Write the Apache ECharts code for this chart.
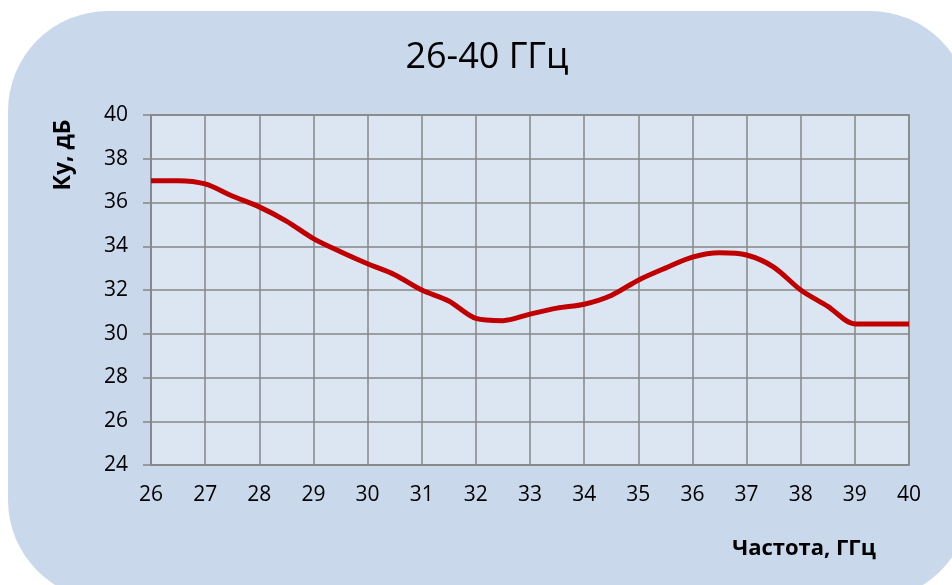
<!DOCTYPE html>
<html>
<head>
<meta charset="utf-8">
<script src="https://cdn.jsdelivr.net/npm/echarts@6/dist/echarts.min.js"></script>
<style>html,body{margin:0;padding:0;background:#fff;}#c{width:952px;height:585px;}</style>
</head>
<body>
<div id="c"></div>
<script>
var freqs = [26, 26.5, 27, 27.5, 28, 28.5, 29, 29.5, 30, 30.5, 31, 31.5, 32, 32.5, 33, 33.5, 34, 34.5, 35, 35.5, 36, 36.5, 37, 37.5, 38, 38.5, 39, 39.5, 40];
var gain  = [37.0, 37.0, 36.85, 36.3, 35.8, 35.15, 34.35, 33.75, 33.2, 32.7, 32.0, 31.5, 30.7, 30.6, 30.9, 31.17, 31.35, 31.75, 32.45, 33.0, 33.5, 33.7, 33.6, 33.05, 32.0, 31.25, 30.45, 30.45, 30.45];
var titleText = '26-40 ГГц';
var xName = 'Частота, ГГц';
var yName = 'Ку, дБ';

var font = '"Open Sans", "Noto Sans", sans-serif';
var chart = echarts.init(document.getElementById('c'));
chart.setOption({
  animation: false,
  backgroundColor: '#ffffff',
  graphic: [{
    type: 'rect', z: -10, silent: true,
    shape: {x: 8, y: 11, width: 962, height: 589, r: 100},
    style: {fill: '#c9d8ea'}
  }, {
    type: 'text', x: 487, y: 58,
    style: {text: titleText, fontSize: 36, fontFamily: font, fill: '#000', align: 'center', verticalAlign: 'middle'}
  }, {
    type: 'text', x: 804, y: 549,
    style: {text: xName, fontSize: 22, fontWeight: 'bold', fontFamily: font, fill: '#000', align: 'center', verticalAlign: 'middle'}
  }, {
    type: 'text', x: 63, y: 155, rotation: Math.PI / 2,
    style: {text: yName, fontSize: 23, fontWeight: 'bold', fontFamily: font, fill: '#000', align: 'center', verticalAlign: 'middle'}
  }],
  grid: {left: 151, right: 43, top: 115, bottom: 120, show: true, backgroundColor: '#dce6f2', borderColor: '#878787', borderWidth: 1.5},
  xAxis: {
    type: 'value', min: 26, max: 40, interval: 1,
    axisLine: {show: true, lineStyle: {color: '#878787', width: 1.5}},
    axisTick: {show: false},
    splitLine: {show: true, lineStyle: {color: '#878787', width: 1.5}},
    axisLabel: {color: '#000', fontSize: 21, fontFamily: font, margin: 20}
  },
  yAxis: {
    type: 'value', min: 24, max: 40, interval: 2,
    axisLine: {show: true, lineStyle: {color: '#878787', width: 1.5}},
    axisTick: {show: true, inside: false, length: 8, lineStyle: {color: '#878787', width: 1.5}},
    splitLine: {show: true, lineStyle: {color: '#878787', width: 1.5}},
    axisLabel: {color: '#000', fontSize: 21, fontFamily: font, margin: 23}
  },
  series: [{
    type: 'line', smooth: 0.3, showSymbol: false,
    data: freqs.map(function (f, i) { return [f, gain[i]]; }),
    lineStyle: {color: '#c00000', width: 5}
  }]
});
</script>
</body>
</html>
